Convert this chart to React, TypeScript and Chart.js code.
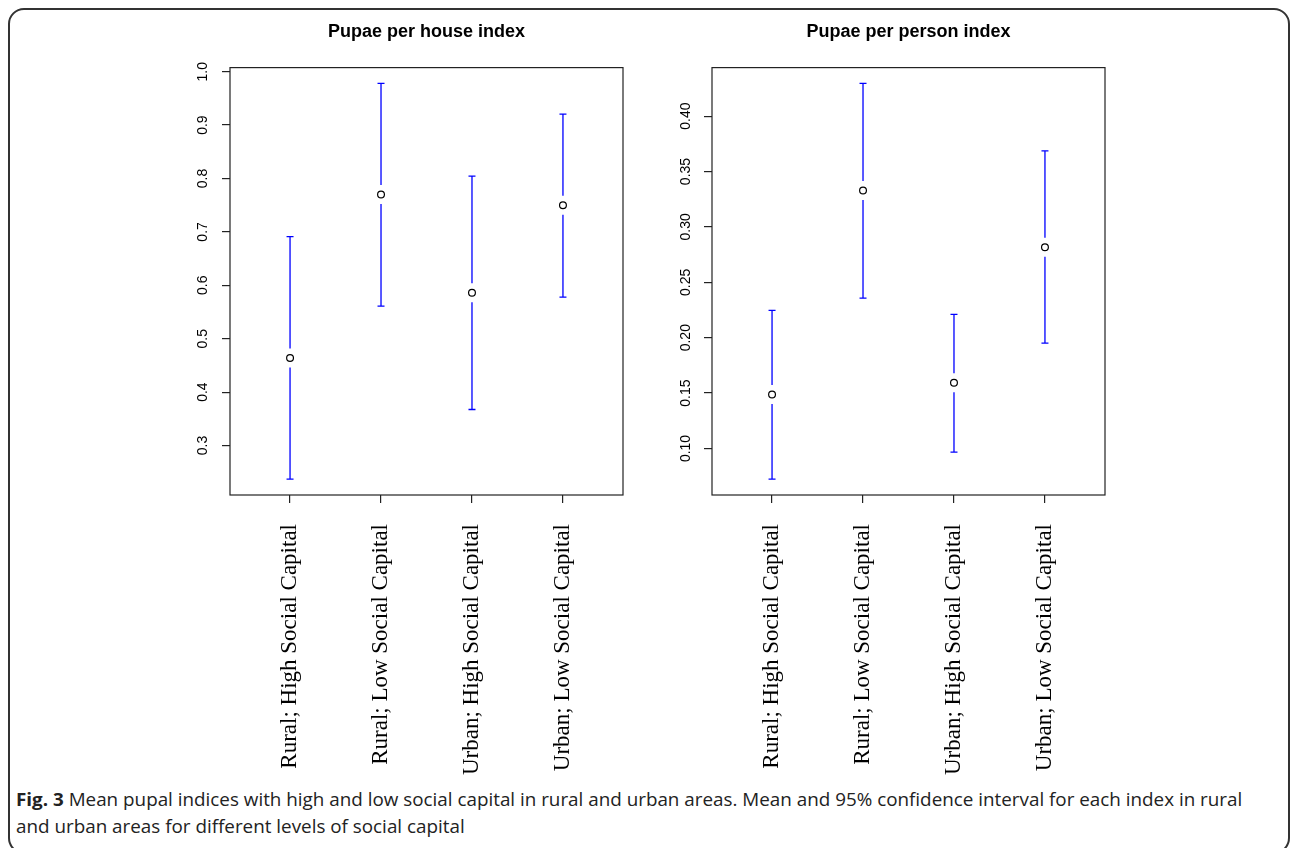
import React, { useEffect, useRef, useLayoutEffect } from "react";
import { Chart, registerables } from "chart.js";

Chart.register(...registerables);

// ---------- data ----------
const categories = [
  "Rural; High Social Capital",
  "Rural; Low Social Capital",
  "Urban; High Social Capital",
  "Urban; Low Social Capital",
];

const houseMean = [0.464, 0.77, 0.586, 0.75];
const houseLower = [0.237, 0.561, 0.3675, 0.578];
const houseUpper = [0.691, 0.978, 0.8045, 0.9205];
const houseTicks = [0.3, 0.4, 0.5, 0.6, 0.7, 0.8, 0.9, 1.0];

const personMean = [0.1487, 0.3329, 0.1593, 0.2817];
const personLower = [0.0723, 0.2357, 0.0967, 0.1951];
const personUpper = [0.2246, 0.4295, 0.221, 0.3687];
const personTicks = [0.1, 0.15, 0.2, 0.25, 0.3, 0.35, 0.4];

const captionBold = "Fig. 3";
const captionLine1 =
  " Mean pupal indices with high and low social capital in rural and urban areas. Mean and 95% confidence interval for each index in rural";
const captionLine2 = "and urban areas for different levels of social capital";

type PanelProps = {
  left: number;
  top: number;
  width: number;
  height: number;
  title: string;
  mean: number[];
  lower: number[];
  upper: number[];
  ticks: number[];
  decimals: number;
  yWidth: number;
  yPad: number;
};

function ChartPanel(p: PanelProps) {
  const ref = useRef<HTMLCanvasElement | null>(null);
  useEffect(() => {
    if (!ref.current) return;
    const lo = Math.min(...p.lower);
    const hi = Math.max(...p.upper);
    const ext = (hi - lo) * 0.04;
    const ciPlugin = {
      id: "ciBars",
      beforeDatasetsDraw(chart: any) {
        const { ctx, chartArea: a, scales } = chart;
        const x = scales.x;
        const y = scales.y;
        ctx.save();
        ctx.strokeStyle = "#222";
        ctx.lineWidth = 1.2;
        ctx.strokeRect(a.left, a.top, a.right - a.left, a.bottom - a.top);
        ctx.strokeStyle = "#0000ff";
        ctx.lineWidth = 1.3;
        const gap = 9.5;
        const cap = 3.5;
        p.mean.forEach((m, i) => {
          const px = x.getPixelForValue(i + 1);
          const pm = y.getPixelForValue(m);
          const pu = y.getPixelForValue(p.upper[i]);
          const pl = y.getPixelForValue(p.lower[i]);
          ctx.beginPath();
          ctx.moveTo(px, pu);
          ctx.lineTo(px, pm - gap);
          ctx.moveTo(px, pm + gap);
          ctx.lineTo(px, pl);
          ctx.moveTo(px - cap, pu);
          ctx.lineTo(px + cap, pu);
          ctx.moveTo(px - cap, pl);
          ctx.lineTo(px + cap, pl);
          ctx.stroke();
        });
        ctx.restore();
      },
    };
    const chart = new Chart(ref.current, {
      type: "scatter",
      data: {
        datasets: [
          {
            data: p.mean.map((m, i) => ({ x: i + 1, y: m })),
            pointRadius: 3.4,
            pointBorderColor: "#000",
            pointBackgroundColor: "#fff",
            pointBorderWidth: 1.2,
            showLine: false,
          },
        ],
      },
      options: {
        animation: false,
        responsive: false,
        events: [],
        layout: { padding: { left: 0, right: 17, top: 0, bottom: 0 } },
        plugins: {
          legend: { display: false },
          tooltip: { enabled: false },
          title: {
            display: true,
            text: p.title,
            fullSize: false,
            color: "#000",
            font: { family: '"Liberation Sans", Arial, sans-serif', size: 18, weight: "bold" },
            padding: { top: 11, bottom: 25 },
          },
        },
        scales: {
          x: {
            type: "linear",
            min: 0.34,
            max: 4.66,
            afterBuildTicks: (s: any) => {
              s.ticks = categories.map((_, i) => ({ value: i + 1 }));
            },
            afterFit: (s: any) => {
              s.height = 285;
            },
            grid: {
              display: true,
              drawOnChartArea: false,
              drawTicks: true,
              tickLength: 8,
              color: "#222",
              lineWidth: 1.2,
            },
            border: { display: false },
            ticks: {
              autoSkip: false,
              minRotation: 90,
              maxRotation: 90,
              padding: 21,
              color: "#000",
              font: { family: '"Liberation Serif", "Times New Roman", serif', size: 23 },
              callback: (_v: any, i: number) => categories[i],
            },
          },
          y: {
            type: "linear",
            min: lo - ext,
            max: hi + ext,
            afterBuildTicks: (s: any) => {
              s.ticks = p.ticks.map((v) => ({ value: v }));
            },
            afterFit: (s: any) => {
              s.width = p.yWidth;
            },
            grid: {
              display: true,
              drawOnChartArea: false,
              drawTicks: true,
              tickLength: 8,
              color: "#222",
              lineWidth: 1.2,
            },
            border: { display: false },
            ticks: {
              autoSkip: false,
              minRotation: 90,
              maxRotation: 90,
              crossAlign: "center",
              padding: p.yPad,
              color: "#000",
              font: { family: '"Liberation Sans", Arial, sans-serif', size: 14 },
              callback: (v: any) => Number(v).toFixed(p.decimals),
            },
          },
        },
      } as any,
      plugins: [ciPlugin],
    });
    return () => chart.destroy();
  }, []);
  return (
    <canvas
      ref={ref}
      width={p.width}
      height={p.height}
      style={{ position: "absolute", left: p.left, top: p.top, width: p.width, height: p.height }}
    />
  );
}

export default function App() {
  const capRef = useRef<HTMLDivElement | null>(null);
  const lineRef = useRef<HTMLSpanElement | null>(null);
  useLayoutEffect(() => {
    const fit = () => {
      if (!capRef.current || !lineRef.current) return;
      const w = lineRef.current.offsetWidth;
      if (w > 0) capRef.current.style.transform = `scaleX(${1226 / w})`;
    };
    fit();
    (document as any).fonts?.ready?.then(fit);
  }, []);
  return (
    <div
      style={{
        position: "fixed",
        left: 0,
        top: 0,
        width: 1292,
        height: 848,
        overflow: "hidden",
        background: "#fff",
      }}
    >
      <div
        style={{
          position: "absolute",
          left: 8,
          top: 8,
          width: 1282,
          height: 846,
          border: "2px solid #333",
          borderRadius: 16,
          boxSizing: "border-box",
        }}
      />
      <ChartPanel
        left={130}
        top={10}
        width={510}
        height={770}
        title="Pupae per house index"
        mean={houseMean}
        lower={houseLower}
        upper={houseUpper}
        ticks={houseTicks}
        decimals={1}
        yWidth={100}
        yPad={8.8}
      />
      <ChartPanel
        left={640}
        top={10}
        width={482}
        height={770}
        title="Pupae per person index"
        mean={personMean}
        lower={personLower}
        upper={personUpper}
        ticks={personTicks}
        decimals={2}
        yWidth={72}
        yPad={4.4}
      />
      <div
        ref={capRef}
        style={{
          position: "absolute",
          left: 16,
          top: 786,
          fontFamily: '"Open Sans", "Noto Sans", sans-serif',
          fontSize: 18,
          lineHeight: "27px",
          color: "#222",
          whiteSpace: "nowrap",
          transformOrigin: "0 0",
        }}
      >
        <span ref={lineRef}>
          <b>{captionBold}</b>
          {captionLine1}
        </span>
        <br />
        <span>{captionLine2}</span>
      </div>
    </div>
  );
}
